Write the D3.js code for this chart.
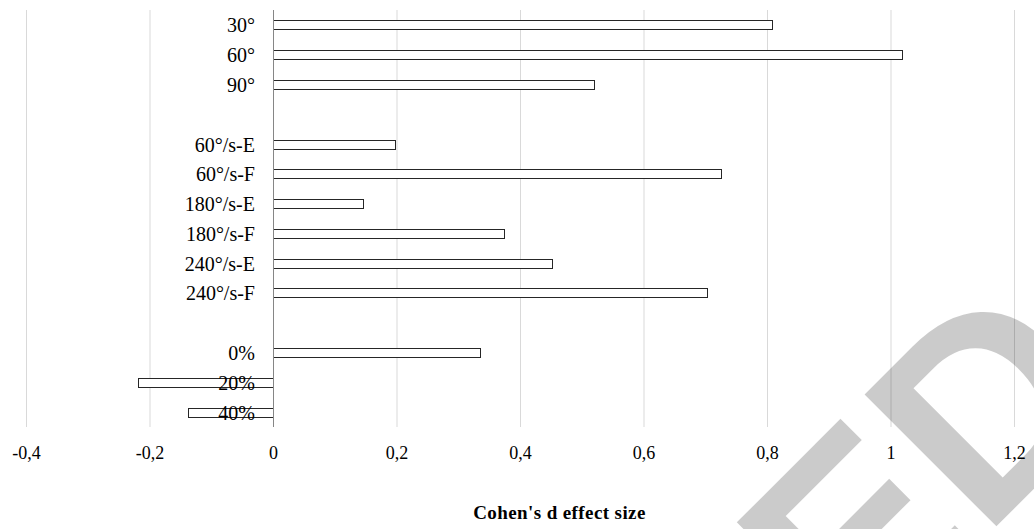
<!DOCTYPE html>
<html>
<head>
<meta charset="utf-8">
<script src="https://cdn.jsdelivr.net/npm/d3@7"></script>
<style>
  html, body { margin: 0; padding: 0; background: #fff; }
  svg { display: block; }
</style>
</head>
<body>
<svg id="chart" width="1034" height="529"></svg>
<script>
const categories = ["30°", "60°", "90°", "", "60°/s-E", "60°/s-F", "180°/s-E", "180°/s-F", "240°/s-E", "240°/s-F", "", "0%", "20%", "40%"];
const values = [0.808, 1.018, 0.52, null, 0.198, 0.726, 0.145, 0.374, 0.452, 0.703, null, 0.336, -0.218, -0.138];
const tickValues = [-0.4, -0.2, 0, 0.2, 0.4, 0.6, 0.8, 1, 1.2];
const xTitle = "Cohen's d effect size";
const watermark = "ED";

const svg = d3.select("#chart");
const plotTop = 10, plotBottom = 427, plotLeft = 26, plotRight = 1014;

const x = d3.scaleLinear().domain([-0.4, 1.2]).range([plotLeft, plotRight]);
const y = d3.scaleBand().domain(d3.range(categories.length))
  .range([plotTop, plotBottom]).paddingInner(0.7).paddingOuter(0.35);

const locale = d3.formatLocale({decimal: ",", thousands: ".", grouping: [3], currency: ["", ""], minus: "-"});
const fmt = v => locale.format("~g")(+v.toFixed(2));

// gridlines + tick labels via axis
const axis = d3.axisBottom(x).tickValues(tickValues).tickFormat(fmt)
  .tickSize(-(plotBottom - plotTop)).tickPadding(0);
const gAxis = svg.append("g").attr("transform", `translate(0,${plotBottom})`).call(axis);
gAxis.select(".domain").remove();
gAxis.selectAll(".tick line").attr("stroke", d => d === 0 ? "none" : "#d9d9d9").attr("stroke-width", 1);
gAxis.selectAll(".tick text")
  .attr("y", 32).attr("dy", 0)
  .attr("fill", "#000")
  .style("font-family", "'Liberation Serif', 'Times New Roman', serif")
  .style("font-size", "18px");

// bars
const idx = d3.range(categories.length).filter(i => values[i] !== null);
svg.append("g").selectAll("rect").data(idx).join("rect")
  .attr("x", i => Math.round(x(Math.min(0, values[i]))) + 0.5)
  .attr("y", i => Math.round(y(i)) + 0.5)
  .attr("width", i => Math.round(Math.abs(x(values[i]) - x(0))))
  .attr("height", Math.round(y.bandwidth()))
  .attr("fill", "#fff")
  .attr("stroke", "#262626")
  .attr("stroke-width", 1);

// vertical axis at 0
svg.append("line")
  .attr("x1", Math.round(x(0)) + 0.5).attr("x2", Math.round(x(0)) + 0.5)
  .attr("y1", plotTop).attr("y2", plotBottom)
  .attr("stroke", "#868686").attr("stroke-width", 1);

// category labels
svg.append("g").selectAll("text").data(d3.range(categories.length)).join("text")
  .attr("x", 255)
  .attr("y", i => y(i) + y.bandwidth() / 2 + 7.5)
  .attr("text-anchor", "end")
  .style("font-family", "'Liberation Serif', 'Times New Roman', serif")
  .style("font-size", "20px")
  .attr("fill", "#000")
  .text(i => categories[i]);

// axis title
svg.append("text")
  .attr("x", 559.5).attr("y", 519)
  .attr("text-anchor", "middle")
  .style("font-family", "'Liberation Serif', 'Times New Roman', serif")
  .style("font-size", "19px").style("font-weight", "bold")
  .style("letter-spacing", "0.4px")
  .attr("fill", "#000")
  .text(xTitle);

// watermark
svg.append("text")
  .attr("transform", "translate(855.8,667) rotate(-45)")
  .style("font-family", "'Liberation Sans', Arial, sans-serif")
  .style("font-size", "271px").style("font-weight", "bold")
  .attr("fill", "#000").attr("fill-opacity", 0.205)
  .text(watermark);
</script>
</body>
</html>
